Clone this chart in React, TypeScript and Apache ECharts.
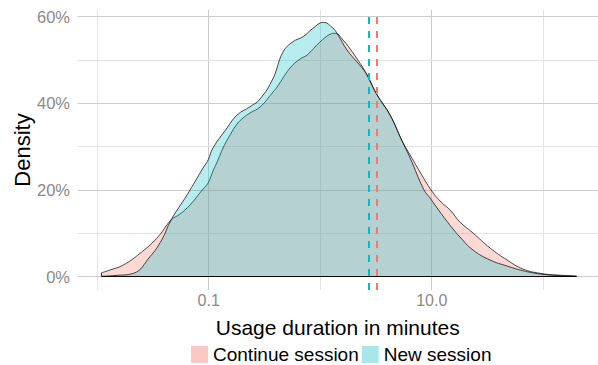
import React, { useEffect, useRef } from 'react';
import * as echarts from 'echarts';

// Density of session usage duration, x given as log10(minutes)
const contLog10 = [
  -1.96, -1.885, -1.766, -1.616, -1.466, -1.338, -1.257, -1.168, -1.051, -1.006,
  -0.962, -0.917, -0.872, -0.809, -0.746, -0.692, -0.63, -0.54, -0.423, -0.387,
  -0.271, -0.181, -0.118, -0.002, 0.088, 0.133, 0.204, 0.294, 0.384, 0.429,
  0.51, 0.626, 0.734, 0.806, 0.895, 0.994, 1.074, 1.164, 1.253, 1.37,
  1.523, 1.675, 1.818, 1.971, 2.123, 2.3,
];
const contDensity = [
  0.0092, 0.0155, 0.027, 0.054, 0.0886, 0.1309, 0.1447, 0.1655, 0.2024, 0.2162,
  0.2439, 0.2693, 0.297, 0.327, 0.3524, 0.3663, 0.3778, 0.3916, 0.4263, 0.4378,
  0.4817, 0.5024, 0.5116, 0.5417, 0.5594, 0.5617, 0.5463, 0.5163, 0.4817, 0.4609,
  0.4194, 0.3732, 0.3132, 0.2809, 0.2416, 0.2001, 0.1747, 0.1539, 0.1262, 0.1009,
  0.0662, 0.0385, 0.0178, 0.0078, 0.0039, 0.0016,
];
const newLog10 = [
  -1.96, -1.84, -1.676, -1.527, -1.422, -1.338, -1.195, -1.051, -1.006, -0.962,
  -0.836, -0.746, -0.63, -0.54, -0.423, -0.334, -0.244, -0.154, -0.065, 0.028,
  0.115, 0.151, 0.24, 0.33, 0.402, 0.429, 0.51, 0.626, 0.734, 0.806,
  0.931, 0.985, 1.074, 1.191, 1.253, 1.37, 1.523, 1.675, 1.818, 1.971,
  2.123, 2.294,
];
const newDensity = [
  0.001, 0.0028, 0.0078, 0.0462, 0.0847, 0.1309, 0.1886, 0.2509, 0.2693, 0.297,
  0.3432, 0.3732, 0.3923, 0.4101, 0.4579, 0.5186, 0.5424, 0.5539, 0.5733, 0.5871,
  0.5733, 0.5617, 0.5232, 0.4955, 0.4731, 0.4609, 0.4194, 0.3732, 0.3132, 0.2739,
  0.2001, 0.1816, 0.1493, 0.1101, 0.0916, 0.0616, 0.0385, 0.0247, 0.0138, 0.0062,
  0.0028, 0.0009,
];
const groupNames = ['Continue session', 'New session'];
const groupMedians = [3.19, 2.75];
const xLabelValues = [0.1, 10];
const xLabelTexts = ['0.1', '10.0'];
const xMajorGrid = [0.1, 10];
const xMinorGrid = [0.01, 1, 100];
const yMajorGrid = [0, 0.2, 0.4, 0.6];
const yMinorGrid = [0.1, 0.3, 0.5];

const FONT = '"Liberation Sans", Arial, Helvetica, sans-serif';
const LINE_COLORS = ['#F8766D', '#00BFC4'];
const FILL_COLORS = ['rgba(248,118,109,0.4)', 'rgba(0,191,196,0.4)'];
const KEY_COLORS = ['#FCC8C5', '#A8E6E7'];
const MAJOR = '#cccccc';
const MINOR = '#e4e4e4';

function toPairs(logs: number[], dens: number[]) {
  return logs.map((l, i) => [Math.pow(10, l), dens[i]]);
}

export default function App() {
  const ref = useRef<HTMLDivElement>(null);
  useEffect(() => {
    document.body.style.margin = '0';
    if (!ref.current) return;
    const chart = echarts.init(ref.current, undefined, { renderer: 'svg' });
    const curves = [
      { logs: contLog10, dens: contDensity },
      { logs: newLog10, dens: newDensity },
    ];
    const gridLines = [
      ...xMinorGrid.map((v) => ({ xAxis: v, lineStyle: { color: MINOR, width: 1, type: 'solid' } })),
      ...xMajorGrid.map((v) => ({ xAxis: v, lineStyle: { color: MAJOR, width: 1, type: 'solid' } })),
      ...yMinorGrid.map((v) => ({ yAxis: v, lineStyle: { color: MINOR, width: 1, type: 'solid' } })),
      ...yMajorGrid.map((v) => ({ yAxis: v, lineStyle: { color: MAJOR, width: 1, type: 'solid' } })),
    ];
    const densitySeries = curves.map((c, i) => ({
      name: groupNames[i],
      type: 'line',
      z: 2 + i,
      data: toPairs(c.logs, c.dens),
      showSymbol: false,
      symbol: 'none',
      smooth: 0.45,
      silent: true,
      itemStyle: { color: KEY_COLORS[i] },
      lineStyle: { color: '#000', width: 0.7 },
      areaStyle: { color: FILL_COLORS[i], origin: 0 },
      markLine: {
        silent: true,
        symbol: ['none', 'none'],
        label: { show: false },
        z: 6,
        data: [
          {
            xAxis: groupMedians[i],
            lineStyle: { color: LINE_COLORS[i], width: 2, type: [7, 7] },
          },
          [
            { coord: [Math.pow(10, c.logs[0]), 0], lineStyle: { color: '#000', width: 0.8, type: 'solid' } },
            { coord: [Math.pow(10, c.logs[c.logs.length - 1]), 0] },
          ],
          [
            { coord: [Math.pow(10, c.logs[0]), 0], lineStyle: { color: '#000', width: 0.8, type: 'solid' } },
            { coord: [Math.pow(10, c.logs[0]), c.dens[0]] },
          ],
        ],
      },
    }));
    chart.setOption({
      animation: false,
      grid: { left: 77.5, right: 0, top: 10, bottom: 75, containLabel: false, outerBoundsMode: 'none' },
      legend: {
        data: groupNames.map((n, i) => ({
          name: n,
          icon: 'rect',
          itemStyle: { color: KEY_COLORS[i], borderWidth: 0 },
        })),
        left: 186,
        top: 340,
        itemWidth: 17,
        itemHeight: 17,
        itemGap: 3,
        selectedMode: false,
        textStyle: { fontFamily: FONT, fontSize: 19, color: '#000' },
      },
      xAxis: {
        type: 'log',
        logBase: 10,
        min: Math.pow(10, -2.177),
        max: Math.pow(10, 2.491),
        name: 'Usage duration in minutes',
        nameLocation: 'middle',
        nameGap: 27,
        nameMoveOverlap: false,
        nameTextStyle: { fontFamily: FONT, fontSize: 21, color: '#000' },
        axisLine: { show: false },
        axisTick: { show: false },
        splitLine: { show: false },
        minorSplitLine: { show: false },
        axisLabel: {
          fontFamily: FONT,
          fontSize: 16,
          color: '#8a8a8a',
          margin: 2,
          showMinLabel: false,
          showMaxLabel: false,
          formatter: (v: number) => {
            const k = xLabelValues.findIndex((t) => Math.abs(Math.log10(v) - Math.log10(t)) < 1e-6);
            return k >= 0 ? xLabelTexts[k] : '';
          },
        },
      },
      yAxis: {
        type: 'value',
        min: -0.0307,
        max: 0.6155,
        splitNumber: 3,
        name: 'Density',
        nameLocation: 'middle',
        nameGap: 44,
        nameMoveOverlap: false,
        nameTextStyle: { fontFamily: FONT, fontSize: 22, color: '#000' },
        axisLine: { show: false },
        axisTick: { show: false },
        splitLine: { show: false },
        axisLabel: {
          fontFamily: FONT,
          fontSize: 16.5,
          color: '#8a8a8a',
          margin: 7.5,
          showMinLabel: false,
          showMaxLabel: false,
          formatter: (v: number) => {
            const p = Math.round(v * 100);
            const ok = yMajorGrid.some((t) => Math.abs(t - v) < 1e-6);
            return ok ? p + '%' : '';
          },
        },
      },
      series: [
        {
          name: 'grid',
          type: 'line',
          z: 1,
          data: [],
          silent: true,
          markLine: {
            silent: true,
            symbol: ['none', 'none'],
            label: { show: false },
            z: 1,
            data: gridLines,
          },
        },
        ...densitySeries,
      ],
    });
    return () => chart.dispose();
  }, []);
  return <div ref={ref} style={{ width: 598, height: 365 }} />;
}
